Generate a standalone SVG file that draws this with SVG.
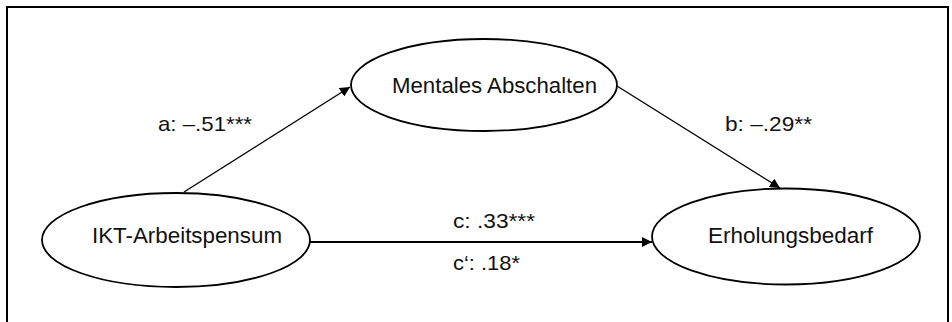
<svg xmlns="http://www.w3.org/2000/svg" width="952" height="322" viewBox="0 0 952 322">
<style>
.node ellipse{fill:#fff;stroke:#000;stroke-width:1.8}
text{font-family:"Liberation Sans",Arial,sans-serif;fill:#111}
.nt{font-size:22px}
.lt{font-size:21px}
.conn line{stroke:#000;stroke-width:1.4}
</style>
<defs>
<marker id="arr" viewBox="0 0 10 10" refX="10" refY="5" markerWidth="10" markerHeight="10" markerUnits="userSpaceOnUse" orient="auto">
<path d="M0,0 L10,5 L0,10 z" fill="#000"/>
</marker>
</defs>
<rect x="7" y="7" width="941" height="330" fill="#fff" stroke="#000" stroke-width="2"/>
<g class="conn" id="connectors">
<line x1="184" y1="192" x2="350" y2="87" marker-end="url(#arr)"/>
<line x1="617" y1="86" x2="780" y2="188" marker-end="url(#arr)"/>
<line x1="310" y1="242" x2="652" y2="242" style="stroke-width:2" marker-end="url(#arr)"/>
</g>
<g class="node" id="mentales">
<ellipse cx="484" cy="85" rx="133" ry="46"/>
<text class="nt" x="392" y="93" textLength="205" lengthAdjust="spacingAndGlyphs">Mentales Abschalten</text>
</g>
<g class="node" id="ikt">
<ellipse cx="176" cy="240" rx="134" ry="47"/>
<text class="nt" x="92" y="243" textLength="190" lengthAdjust="spacingAndGlyphs">IKT-Arbeitspensum</text>
</g>
<g class="node" id="erholung">
<ellipse cx="786" cy="236.5" rx="134" ry="48"/>
<text class="nt" x="708" y="243" textLength="165" lengthAdjust="spacingAndGlyphs">Erholungsbedarf</text>
</g>
<g id="labels">
<text class="lt" x="158" y="131" textLength="94" lengthAdjust="spacingAndGlyphs">a: –.51***</text>
<text class="lt" x="725" y="131" textLength="87" lengthAdjust="spacingAndGlyphs">b: –.29**</text>
<text class="lt" x="453" y="228" textLength="82" lengthAdjust="spacingAndGlyphs">c: .33***</text>
<text class="lt" x="453" y="270" textLength="67" lengthAdjust="spacingAndGlyphs">c‘: .18*</text>
</g>
</svg>
